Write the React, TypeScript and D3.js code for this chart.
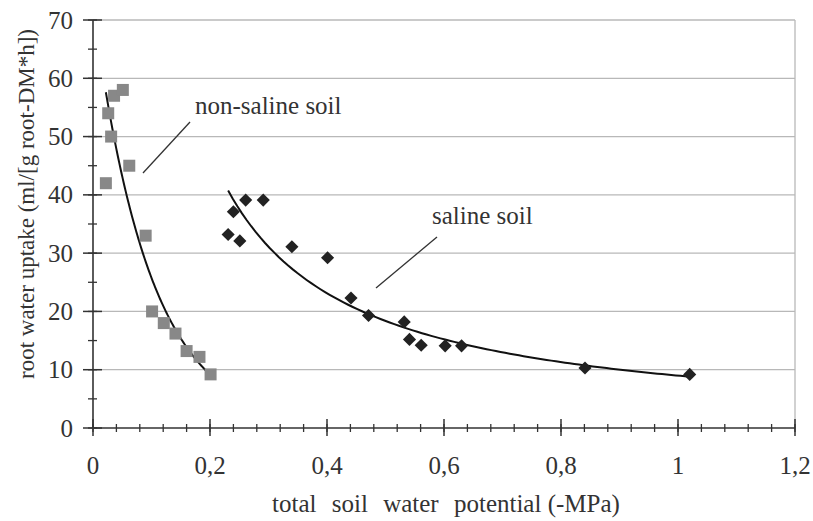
import React, { useEffect, useRef } from 'react';
import * as d3 from 'd3';

// non-saline soil (gray squares)
const nonSalineX = [0.022, 0.026, 0.031, 0.036, 0.051, 0.062, 0.09, 0.101, 0.121, 0.141, 0.16, 0.182, 0.201];
const nonSalineY = [42, 54, 50, 57, 58, 45, 33, 20, 18, 16.2, 13.2, 12.2, 9.2];

// saline soil (black diamonds)
const salineX = [0.231, 0.24, 0.251, 0.261, 0.291, 0.34, 0.401, 0.441, 0.471, 0.532, 0.541, 0.561, 0.602, 0.63, 0.841, 1.02];
const salineY = [33.2, 37.1, 32.1, 39.1, 39.1, 31.1, 29.2, 22.3, 19.3, 18.2, 15.2, 14.2, 14.1, 14.1, 10.3, 9.2];

const xTicks = [0, 0.2, 0.4, 0.6, 0.8, 1, 1.2];
const yTicks = [0, 10, 20, 30, 40, 50, 60, 70];

const font = "'Liberation Serif', 'DejaVu Serif', serif";

// least squares of ln(y) on x (exponential trendline) or ln(x) (power trendline)
function fit(xs: number[], ys: number[], power: boolean) {
  const u = xs.map(v => (power ? Math.log(v) : v));
  const w = ys.map(v => Math.log(v));
  const mu = d3.mean(u)!;
  const mw = d3.mean(w)!;
  const b = d3.sum(u, (v, i) => (v - mu) * (w[i] - mw)) / d3.sum(u, v => (v - mu) * (v - mu));
  const a = Math.exp(mw - b * mu);
  return power ? (x: number) => a * Math.pow(x, b) : (x: number) => a * Math.exp(b * x);
}

export default function App() {
  const ref = useRef<SVGSVGElement>(null);

  useEffect(() => {
    const svg = d3.select(ref.current);
    svg.selectAll('*').remove();

    const x = d3.scaleLinear().domain([0, 1.2]).range([93, 795]);
    const y = d3.scaleLinear().domain([0, 70]).range([428, 20]);

    // gridlines
    svg.append('g').selectAll('line').data(yTicks.filter(t => t > 0)).enter().append('line')
      .attr('x1', x(0)).attr('x2', x(1.2))
      .attr('y1', d => y(d)).attr('y2', d => y(d))
      .attr('stroke', '#b8b8b8').attr('stroke-width', 1.3);
    svg.append('line')
      .attr('x1', x(1.2)).attr('x2', x(1.2)).attr('y1', y(70)).attr('y2', y(0))
      .attr('stroke', '#b8b8b8').attr('stroke-width', 1.3);

    // axes
    const axisColor = '#333';
    svg.append('line').attr('x1', x(0)).attr('x2', x(1.2)).attr('y1', y(0)).attr('y2', y(0))
      .attr('stroke', axisColor).attr('stroke-width', 1.6);
    svg.append('line').attr('x1', x(0)).attr('x2', x(0)).attr('y1', y(0)).attr('y2', y(70))
      .attr('stroke', axisColor).attr('stroke-width', 1.6);

    const xMinor = d3.range(0, 31).map(i => i * 0.04);
    svg.append('g').selectAll('line').data(xMinor).enter().append('line')
      .attr('x1', d => x(d)).attr('x2', d => x(d))
      .attr('y1', y(0) - 4).attr('y2', y(0) + 4)
      .attr('stroke', axisColor).attr('stroke-width', 1.3);
    svg.append('g').selectAll('line').data(xTicks).enter().append('line')
      .attr('x1', d => x(d)).attr('x2', d => x(d))
      .attr('y1', y(0) - 9).attr('y2', y(0) + 8)
      .attr('stroke', axisColor).attr('stroke-width', 1.5);

    const yMinor = d3.range(0, 15).map(i => i * 5);
    svg.append('g').selectAll('line').data(yMinor).enter().append('line')
      .attr('x1', x(0) - 5).attr('x2', x(0) + 4)
      .attr('y1', d => y(d)).attr('y2', d => y(d))
      .attr('stroke', axisColor).attr('stroke-width', 1.3);
    svg.append('g').selectAll('line').data(yTicks).enter().append('line')
      .attr('x1', x(0) - 10).attr('x2', x(0) + 9)
      .attr('y1', d => y(d)).attr('y2', d => y(d))
      .attr('stroke', axisColor).attr('stroke-width', 1.5);

    // tick labels
    svg.append('g').selectAll('text').data(xTicks).enter().append('text')
      .attr('x', d => x(d)).attr('y', 474)
      .attr('text-anchor', 'middle')
      .style('font-family', font).style('font-size', '25px').attr('fill', '#333')
      .text(d => String(d).replace('.', ','));
    svg.append('g').selectAll('text').data(yTicks).enter().append('text')
      .attr('x', 73).attr('y', d => y(d) + 8.5)
      .attr('text-anchor', 'end')
      .style('font-family', font).style('font-size', '25px').attr('fill', '#333')
      .text(d => d);

    // axis titles
    const xt = svg.append('text')
      .attr('x', 446).attr('y', 512)
      .attr('text-anchor', 'middle')
      .style('font-family', font).style('font-size', '25px').attr('fill', '#333');
    xt.append('tspan').style('word-spacing', '9px').text('total soil water potential');
    xt.append('tspan').text(' (-MPa)');
    svg.append('text')
      .attr('transform', 'translate(34,204) rotate(-90)')
      .attr('text-anchor', 'middle')
      .style('font-family', font).style('font-size', '23px').attr('fill', '#333')
      .text('root water uptake (ml/[g root-DM*h])');

    // trendlines
    const line = d3.line<number[]>().x(d => x(d[0])).y(d => y(d[1]));
    const nsFit = fit(nonSalineX, nonSalineY, false);
    const [nsLo, nsHi] = d3.extent(nonSalineX) as [number, number];
    const nsPts = d3.range(0, 101).map(i => {
      const v = nsLo + (nsHi - nsLo) * i / 100;
      return [v, nsFit(v)];
    });
    const sFit = fit(salineX, salineY, true);
    const [sLo, sHi] = d3.extent(salineX) as [number, number];
    const sPts = d3.range(0, 101).map(i => {
      const v = sLo + (sHi - sLo) * i / 100;
      return [v, sFit(v)];
    });
    svg.append('path').attr('d', line(nsPts)).attr('fill', 'none').attr('stroke', '#111').attr('stroke-width', 2);
    svg.append('path').attr('d', line(sPts)).attr('fill', 'none').attr('stroke', '#111').attr('stroke-width', 2);

    // markers
    svg.append('g').selectAll('rect').data(nonSalineX).enter().append('rect')
      .attr('x', d => x(d) - 6).attr('y', (d, i) => y(nonSalineY[i]) - 6)
      .attr('width', 12).attr('height', 12)
      .attr('fill', '#888');
    svg.append('g').selectAll('path').data(salineX).enter().append('path')
      .attr('d', d3.symbol().type(d3.symbolDiamond2).size(110)())
      .attr('transform', (d, i) => `translate(${x(d)},${y(salineY[i])})`)
      .attr('fill', '#222');

    // annotations
    svg.append('text').attr('x', 195).attr('y', 114)
      .style('font-family', font).style('font-size', '25px').attr('fill', '#333')
      .text('non-saline soil');
    svg.append('line').attr('x1', 190).attr('y1', 122).attr('x2', 143).attr('y2', 173)
      .attr('stroke', '#333').attr('stroke-width', 1.3);
    svg.append('text').attr('x', 432).attr('y', 224)
      .style('font-family', font).style('font-size', '25px').attr('fill', '#333')
      .text('saline soil');
    svg.append('line').attr('x1', 437).attr('y1', 237).attr('x2', 376).attr('y2', 288)
      .attr('stroke', '#333').attr('stroke-width', 1.3);
  }, []);

  return (
    <svg ref={ref} width={813} height={521}
      style={{ position: 'absolute', left: 0, top: 0, background: '#fff' }} />
  );
}
